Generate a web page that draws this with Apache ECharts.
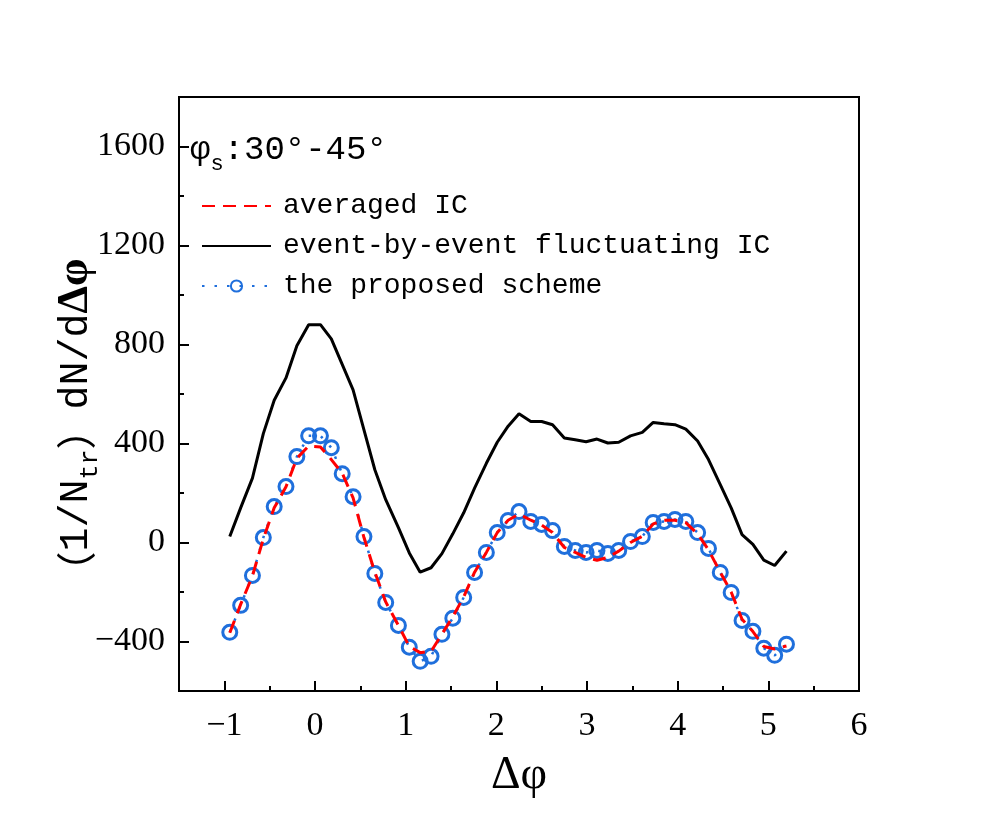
<!DOCTYPE html>
<html>
<head>
<meta charset="utf-8">
<script src="https://cdn.jsdelivr.net/npm/echarts@6/dist/echarts.min.js"></script>
<style>
  html, body { margin: 0; padding: 0; background: #fff; }
  #main { width: 997px; height: 830px; }
</style>
</head>
<body>
<div id="main"></div>
<script>
    var myChart = echarts.init(document.getElementById('main'));

    // x positions (Δφ) of the points
    var phi = [-0.94, -0.82, -0.69, -0.57, -0.45, -0.32, -0.20, -0.07, 0.06, 0.18,
        0.30, 0.42, 0.54, 0.66, 0.78, 0.92, 1.04, 1.16, 1.28, 1.40,
        1.52, 1.64, 1.76, 1.89, 2.01, 2.13, 2.25, 2.38, 2.50, 2.62,
        2.75, 2.87, 2.99, 3.11, 3.23, 3.35, 3.48, 3.61, 3.73, 3.85,
        3.97, 4.09, 4.22, 4.34, 4.47, 4.59, 4.71, 4.83, 4.95, 5.07, 5.20];

    // averaged IC (red dashed)
    var averaged = [-365, -250, -135, 15, 140, 225, 340, 390, 386, 335,
        280, 180, 20, -120, -240, -335, -420, -445, -440, -370,
        -300, -220, -120, -40, 40, 90, 115, 90, 70, 40,
        -20, -40, -60, -72, -60, -35, 0, 25, 75, 90,
        90, 80, 35, -30, -120, -200, -310, -360, -420, -430, -418];

    // event-by-event fluctuating IC (black)
    var eventByEvent = [24, 140, 260, 440, 575, 665, 795, 880, 880, 823,
        720, 617, 455, 294, 173, 60, -42, -120, -102, -45,
        35, 120, 220, 320, 405, 470, 520, 489, 489, 476,
        422, 415, 407, 418, 402, 405, 431, 445, 485, 480,
        476, 458, 410, 335, 234, 140, 32, -8, -71, -93, -35];

    // the proposed scheme (blue circles)
    var proposed = [-363, -254, -133, 20, 145, 226, 347, 431, 431, 383,
        278, 185, 24, -125, -242, -335, -423, -480, -460, -371,
        -306, -222, -121, -40, 40, 89, 125, 85, 73, 48,
        -16, -32, -40, -32, -44, -32, 4, 24, 81, 85,
        93, 85, 40, -24, -121, -202, -315, -359, -427, -456, -411];

    var seriesNames = ['averaged IC', 'event-by-event fluctuating IC', 'the proposed scheme'];

    var xMajor = [-1, 0, 1, 2, 3, 4, 5, 6];
    var xMinor = [-0.5, 0.5, 1.5, 2.5, 3.5, 4.5, 5.5];
    var yMajor = [-400, 0, 400, 800, 1200, 1600];
    var yMinor = [-200, 200, 600, 1000, 1400];

    function pairs(ys) {
        return phi.map(function (x, i) { return [x, ys[i]]; });
    }
    function minusSign(v) {
        return v < 0 ? '\u2212' + Math.abs(v) : String(v);
    }

    var blue = '#1f6fdc';
    var tickFont = 'Liberation Serif';
    var legendFont = 'Liberation Mono';

    // axis that only draws ticks (inside), no line, no labels
    function tickAxis(min, max, values, len, pos) {
        return {
            type: 'value', min: min, max: max, position: pos,
            axisLine: { show: false, onZero: false },
            axisTick: { show: true, inside: true, length: len, customValues: values, lineStyle: { color: '#000', width: 2 } },
            axisLabel: { show: false },
            splitLine: { show: false }
        };
    }

    option = {
        animation: false,
        backgroundColor: '#fff',
        grid: {
            left: 179, right: 138, top: 97, bottom: 139,
            show: true, borderColor: '#000', borderWidth: 2
        },
        legend: {
            orient: 'vertical',
            left: 196,
            top: 186,
            itemWidth: 69,
            itemHeight: 14,
            itemGap: 10,
            data: seriesNames,
            textStyle: {
                fontFamily: legendFont, fontSize: 28, color: '#000',
                lineHeight: 30, padding: [0, 0, 0, 7]
            }
        },
        xAxis: [{
            type: 'value', min: -1.5, max: 6, position: 'bottom',
            name: 'Δφ', nameLocation: 'middle', nameGap: 62,
            nameTextStyle: { fontFamily: tickFont, fontSize: 46, color: '#000' },
            axisLine: { show: true, onZero: false, lineStyle: { color: '#000', width: 2 } },
            axisTick: { show: false },
            axisLabel: { customValues: xMajor, margin: 18, fontFamily: tickFont, fontSize: 34, color: '#000', formatter: minusSign },
            splitLine: { show: false }
        },
            tickAxis(-1.5, 6, xMajor, 10, 'bottom'),
            tickAxis(-1.5, 6, xMinor, 5, 'bottom')
        ],
        yAxis: [{
            type: 'value', min: -600, max: 1800, position: 'left',
            axisLine: { show: true, onZero: false, lineStyle: { color: '#000', width: 2 } },
            axisTick: { show: false },
            axisLabel: { customValues: yMajor, margin: 14, fontFamily: tickFont, fontSize: 34, color: '#000', formatter: minusSign },
            splitLine: { show: false }
        },
            tickAxis(-600, 1800, yMajor, 10, 'left'),
            tickAxis(-600, 1800, yMinor, 5, 'left')
        ],
        graphic: [{
            // panel label
            type: 'text',
            x: 190, y: 150,
            style: {
                text: '{a|φ}{s|s}{a|:30°-45°}',
                verticalAlign: 'middle',
                fill: '#000',
                rich: {
                    a: { fontFamily: legendFont, fontSize: 34, lineHeight: 50, fill: '#000' },
                    s: { fontFamily: legendFont, fontSize: 22, lineHeight: 22, verticalAlign: 'bottom', fill: '#000' }
                }
            }
        }, {
            // y axis title
            type: 'text',
            x: 76, y: 425,
            rotation: Math.PI / 2,
            style: {
                text: '{p|（}{a|1/N}{s|tr}{p|）}{a|dN/d}{g|Δφ}',
                align: 'center',
                verticalAlign: 'middle',
                fill: '#000',
                rich: {
                    p: { fontFamily: 'Noto Sans CJK SC', fontSize: 40, lineHeight: 54, fill: '#000' },
                    a: { fontFamily: legendFont, fontSize: 40, lineHeight: 54, fill: '#000' },
                    s: { fontFamily: legendFont, fontSize: 25, lineHeight: 25, verticalAlign: 'bottom', fill: '#000' },
                    g: { fontFamily: tickFont, fontSize: 44, fontWeight: 'bold', lineHeight: 54, fill: '#000' }
                }
            }
        }],
        series: [{
            name: seriesNames[1],
            type: 'line',
            data: pairs(eventByEvent),
            symbol: 'none',
            lineStyle: { color: '#000', width: 3 },
            itemStyle: { color: 'rgba(0,0,0,0)', borderWidth: 0 },
            z: 2
        }, {
            name: seriesNames[2],
            type: 'line',
            data: pairs(proposed),
            symbol: 'circle',
            symbolSize: 14,
            showAllSymbol: true,
            lineStyle: { color: blue, width: 2.5, type: [2.5, 10] },
            itemStyle: { color: 'rgba(0,0,0,0)', borderColor: blue, borderWidth: 3 },
            z: 3
        }, {
            name: seriesNames[0],
            type: 'line',
            data: pairs(averaged),
            symbol: 'none',
            lineStyle: { color: '#ff0000', width: 3, type: [13, 8] },
            itemStyle: { color: 'rgba(0,0,0,0)', borderWidth: 0 },
            z: 4
        }]
    };

    myChart.setOption(option);
</script>
</body>
</html>
